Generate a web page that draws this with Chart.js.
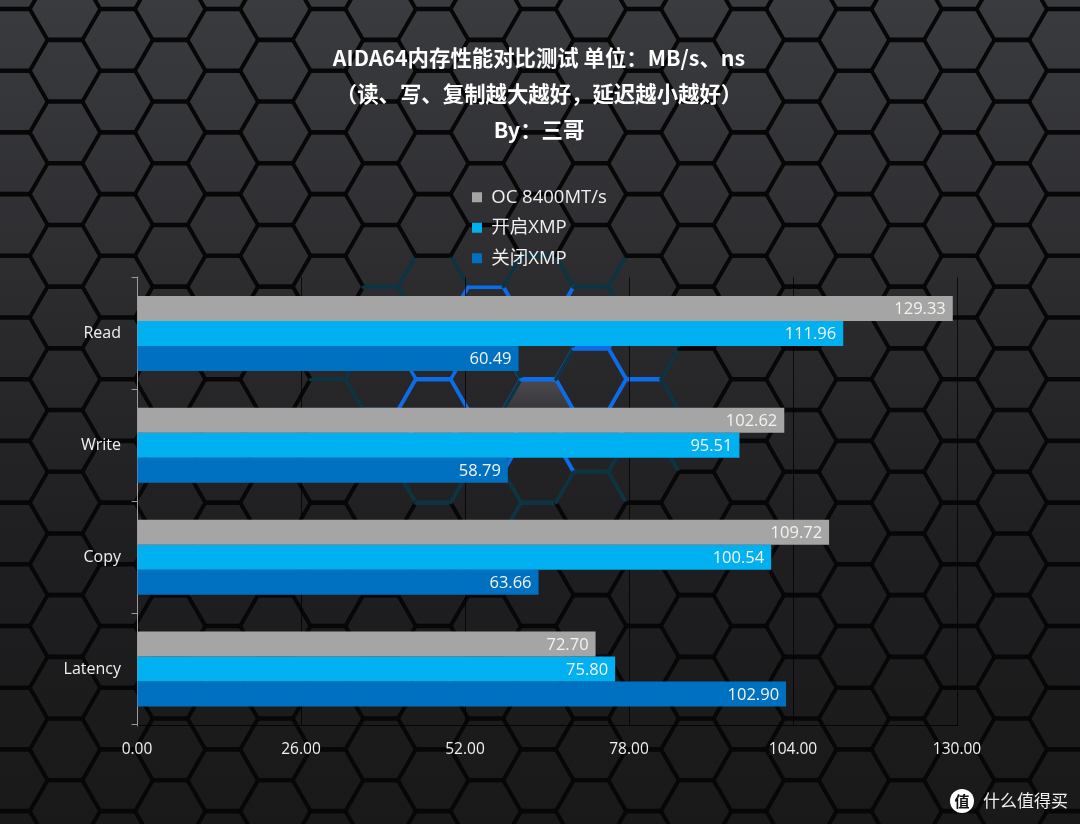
<!DOCTYPE html>
<html>
<head>
<meta charset="utf-8">
<title>AIDA64</title>
<script src="https://cdn.jsdelivr.net/npm/chart.js@4"></script>
<style>
  html, body { margin: 0; padding: 0; background: #1a1a1b; }
  #chart { display: block; }
</style>
</head>
<body>
<canvas id="chart" width="1080" height="824"></canvas>
<script>
const categories = ['Read', 'Write', 'Copy', 'Latency'];
const seriesNames = ['OC 8400MT/s', '开启XMP', '关闭XMP'];
const ocValues = [129.33, 102.62, 109.72, 72.70];
const xmpOnValues = [111.96, 95.51, 100.54, 75.80];
const xmpOffValues = [60.49, 58.79, 63.66, 102.90];
const seriesColors = ['#a5a5a5', '#00b0f0', '#0070c0'];
const titleLines = ['AIDA64内存性能对比测试 单位：MB/s、ns', '（读、写、复制越大越好，延迟越小越好）', 'By：三哥'];

const sansFont = "'Open Sans', 'Noto Sans CJK SC', sans-serif";
const titleFont = "'Noto Sans CJK SC', sans-serif";

// honeycomb wallpaper behind the chart
function drawHexagons(ctx, w, h) {
  const side = 35, stepX = 52.6, stepY = 61.7;
  const fill = ctx.createLinearGradient(0, 0, 0, h);
  fill.addColorStop(0, '#3a3b3f');
  fill.addColorStop(0.35, '#2c2c2f');
  fill.addColorStop(0.65, '#1f1f21');
  fill.addColorStop(1, '#19191a');
  ctx.fillStyle = fill;
  ctx.fillRect(0, 0, w, h);

  // the one lit cell in the middle
  const glow = ctx.createLinearGradient(0, 381, 0, 425);
  glow.addColorStop(0, '#4a4a4e');
  glow.addColorStop(1, '#2c2c2f');
  ctx.fillStyle = glow;
  ctx.beginPath();
  hexPath(ctx, 539, 411, side);
  ctx.fill();

  ctx.lineWidth = 3.5;
  ctx.lineCap = 'round';
  for (let k = -2; k < 22; k++) {
    for (let j = -1; j < 15; j++) {
      const cx = 65 + k * stepX;
      const cy = 70.7 + j * stepY - (k % 2 ? 30.85 : 0);
      for (let i = 0; i < 6; i++) {
        const a = i * Math.PI / 3, b = (i + 1) * Math.PI / 3;
        const x1 = cx + side * Math.cos(a), y1 = cy + side * Math.sin(a);
        const x2 = cx + side * Math.cos(b), y2 = cy + side * Math.sin(b);
        ctx.strokeStyle = edgeColor((x1 + x2) / 2, (y1 + y2) / 2, k, j, i);
        ctx.beginPath();
        ctx.moveTo(x1, y1);
        ctx.lineTo(x2, y2);
        ctx.stroke();
      }
    }
  }
}

function hexPath(ctx, cx, cy, side) {
  for (let i = 0; i < 6; i++) {
    const a = i * Math.PI / 3;
    ctx.lineTo(cx + side * Math.cos(a), cy + side * Math.sin(a));
  }
  ctx.closePath();
}

function edgeColor(mx, my, k, j, i) {
  const d = Math.hypot((mx - 510) / 175, (my - 385) / 125);
  if (d < 0.8 && (k * 7 + j * 13 + i * 5) % 6 !== 0) return '#0d6ce8';
  if (d < 1.1) return '#0e3442';
  return '#070708';
}

const backgroundPlugin = {
  id: 'hexBackground',
  beforeDraw(chart) {
    drawHexagons(chart.ctx, chart.width, chart.height);
  }
};

// values inside the end of each bar
const barLabelPlugin = {
  id: 'barLabels',
  afterDatasetsDraw(chart) {
    const ctx = chart.ctx;
    ctx.save();
    ctx.font = "16.5px " + sansFont;
    ctx.textAlign = 'right';
    ctx.textBaseline = 'middle';
    ctx.fillStyle = '#f4f4ee';
    chart.data.datasets.forEach((ds, i) => {
      chart.getDatasetMeta(i).data.forEach((bar, n) => {
        ctx.fillText(ds.data[n].toFixed(2), bar.x - 7, bar.y + 1);
      });
    });
    ctx.restore();
  }
};

// legend stacked in one left aligned column under the title
const legendPlacePlugin = {
  id: 'legendPlace',
  beforeLayout(chart) {
    const legend = chart.legend;
    if (legend.stacked) return;
    const update = legend.update;
    legend.update = (maxWidth, maxHeight, margins) => update.call(legend, 160, maxHeight, margins);
    legend.stacked = true;
  },
  afterLayout(chart) {
    chart.legend.left = 460;
    chart.legend.right = 620;
    chart.titleBlock.right = 1078;
  }
};

const watermarkPlugin = {
  id: 'watermark',
  afterDraw(chart) {
    const ctx = chart.ctx;
    ctx.save();
    ctx.fillStyle = '#ffffff';
    ctx.beginPath();
    ctx.arc(962, 801, 12, 0, Math.PI * 2);
    ctx.fill();
    ctx.fillStyle = '#111111';
    ctx.font = "bold 15px " + titleFont;
    ctx.textAlign = 'center';
    ctx.textBaseline = 'middle';
    ctx.fillText('值', 962, 801);
    ctx.fillStyle = '#f0f0f0';
    ctx.font = "17px " + titleFont;
    ctx.textAlign = 'left';
    ctx.fillText('什么值得买', 983, 801);
    ctx.restore();
  }
};

const chart = new Chart(document.getElementById('chart'), {
  type: 'bar',
  data: {
    labels: categories,
    datasets: [
      { label: seriesNames[0], data: ocValues, backgroundColor: seriesColors[0] },
      { label: seriesNames[1], data: xmpOnValues, backgroundColor: seriesColors[1] },
      { label: seriesNames[2], data: xmpOffValues, backgroundColor: seriesColors[2] }
    ]
  },
  plugins: [backgroundPlugin, barLabelPlugin, legendPlacePlugin, watermarkPlugin],
  options: {
    indexAxis: 'y',
    responsive: false,
    animation: false,
    devicePixelRatio: 1,
    layout: { padding: { top: 0, left: 0, right: 123, bottom: 0 } },
    datasets: { bar: { barPercentage: 1, categoryPercentage: 0.67, borderWidth: 0 } },
    plugins: {
      title: {
        display: true,
        text: titleLines,
        color: '#ffffff',
        font: { family: titleFont, size: 21.4, weight: 'bold', lineHeight: 1.682 },
        padding: { top: 40, bottom: 28 }
      },
      legend: {
        position: 'top',
        align: 'start',
        labels: {
          boxWidth: 10,
          boxHeight: 10,
          padding: 12,
          color: '#f0f0f0',
          font: { family: sansFont, size: 18.5 }
        }
      },
      tooltip: { enabled: false }
    },
    scales: {
      x: {
        min: 0,
        max: 130,
        afterFit(scale) { scale.height = 99; },
        grid: { color: 'rgba(0,0,0,0.75)', lineWidth: 1, drawTicks: false },
        border: { color: 'rgba(0,0,0,0.75)' },
        ticks: {
          stepSize: 26,
          padding: 15,
          color: '#f0f0f0',
          font: { family: sansFont, size: 15.5 },
          maxRotation: 0,
          callback: (v) => v.toFixed(2)
        }
      },
      y: {
        afterFit(scale) { scale.width = 137; },
        grid: { drawOnChartArea: false, color: '#9a9a9a', tickLength: 5 },
        border: { color: '#9a9a9a' },
        ticks: {
          padding: 11,
          color: '#f0f0f0',
          font: { family: sansFont, size: 16 }
        }
      }
    }
  }
});
</script>
</body>
</html>
